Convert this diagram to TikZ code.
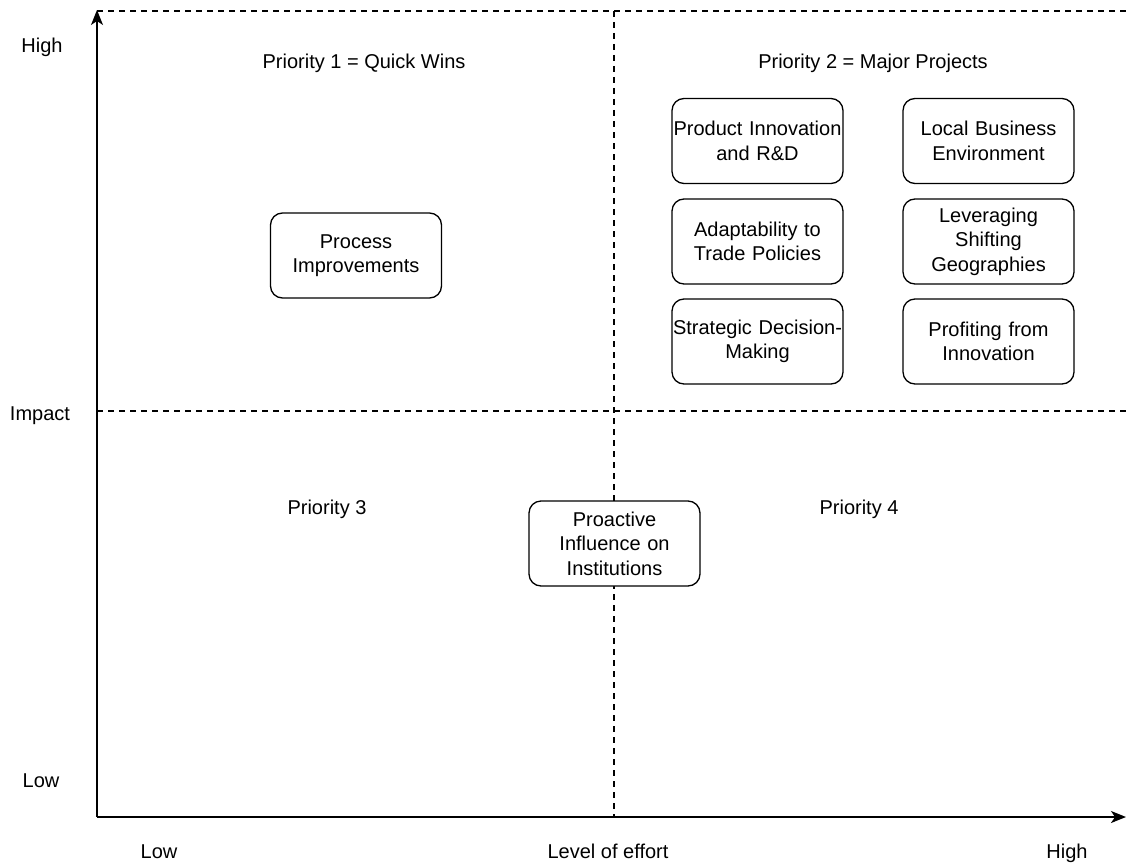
\documentclass[tikz,border=0pt]{standalone}
\usepackage{fontspec}
\setmainfont{Liberation Sans}
\usetikzlibrary{arrows.meta}
\begin{document}
\begin{tikzpicture}[x=1pt,y=-1pt,
  every node/.style={font=\fontsize{20}{24.5}\selectfont, inner sep=0pt},
  item/.style={draw, line width=1.3pt, rounded corners=12pt, minimum width=171pt, minimum height=85pt, align=center, text width=170pt},
  grid/.style={dashed, dash pattern=on 6pt off 5pt, line width=1.1pt},
  axis/.style={line width=1.5pt, -{Stealth[length=15pt,width=12pt,inset=4pt]}},
  lbl/.style={anchor=base}]
\useasboundingbox (0,0) rectangle (1126,864);
% axes
\coordinate (O) at (97,817);
\coordinate (ytop) at (97,10);
\coordinate (xend) at (1126,817);
% dashed quadrant lines
\coordinate (tl) at (97,11);
\coordinate (tr) at (1126,11);
\coordinate (ml) at (97,411);
\coordinate (mr) at (1126,411);
\coordinate (mt) at (614,11);
\coordinate (mb) at (614,817);
\draw[grid] (tl) -- (tr);
\draw[grid] (ml) -- (mr);
\draw[grid] (mt) -- (mb);
\draw[axis] (O) -- (ytop);
\draw[axis] (O) -- (xend);
% axis labels
\node[lbl] (yhigh) at (42,53) {High};
\node[lbl] (yimp) at (40,420) {Impact};
\node[lbl] (ylow) at (41,787) {Low};
\node[lbl] (xlow) at (159,858) {Low};
\node[lbl] (xeff) at (608,858) {Level of effort};
\node[lbl] (xhigh) at (1067,858) {High};
% quadrant titles
\node[lbl] (q1) at (364,69) {Priority 1 = Quick Wins};
\node[lbl] (q2) at (873,69) {Priority 2 = Major Projects};
\node[lbl] (q3) at (327,514) {Priority 3};
\node[lbl] (q4) at (859,514) {Priority 4};
% items
\node[item] (proc) at (356,255.5) {Process\\Improvements};
\node[item] (prod) at (757.5,141) {Product Innovation\\and R\&D};
\node[item] (local) at (988.5,141) {Local Business\\Environment};
\node[item] (adapt) at (757.5,241.5) {Adaptability to\\Trade Policies};
\node[item] (lev) at (988.5,241.5) {Leveraging\\Shifting\\Geographies};
\node[item] (strat) at (757.5,341.5) {Strategic Decision-\\Making};
\node[item] (profit) at (988.5,341.5) {Profiting from\\Innovation};
\node[item, fill=white] (proact) at (614.5,543.5) {Proactive\\Influence on\\Institutions};
\end{tikzpicture}
\end{document}
